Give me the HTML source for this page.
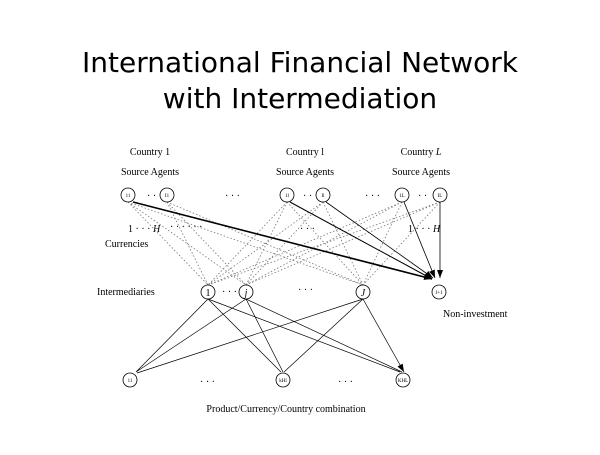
<!DOCTYPE html>
<html><head><style>
body{margin:0;background:#fff;width:600px;height:450px;overflow:hidden}
svg text{font-family:"Liberation Serif",serif;fill:#000}
</style></head><body>
<svg width="600" height="450" viewBox="0 0 600 450">
<defs><marker id="a" markerWidth="8" markerHeight="6" refX="8" refY="3" orient="auto" markerUnits="userSpaceOnUse"><path d="M0,0L8,3L0,6z" fill="#000"/></marker></defs>
<text x="300" y="72" text-anchor="middle" style="font-family:'DejaVu Sans',sans-serif;font-size:28px">International Financial Network</text>
<text x="300" y="108" text-anchor="middle" style="font-family:'DejaVu Sans',sans-serif;font-size:28px">with Intermediation</text>
<g font-size="10">
<text x="150" y="155" text-anchor="middle">Country 1</text>
<text x="305" y="155" text-anchor="middle">Country l</text>
<text x="421" y="155" text-anchor="middle">Country <tspan font-style="italic">L</tspan></text>
<text x="150" y="175" text-anchor="middle">Source Agents</text>
<text x="305" y="175" text-anchor="middle">Source Agents</text>
<text x="421" y="175" text-anchor="middle">Source Agents</text>
<text x="147" y="199">· · ·</text><text x="225" y="199">· · ·</text><text x="303" y="199">· · ·</text><text x="365" y="199">· · ·</text><text x="418" y="199">· ·</text>
<text x="128" y="232">1 · · · <tspan font-style="italic">H</tspan></text>
<text x="170" y="230">· · · · · ·</text>
<text x="300" y="232">· · ·</text>
<text x="408" y="232">1 · · · <tspan font-style="italic">H</tspan></text>
<text x="105" y="247">Currencies</text>
<text x="97" y="295">Intermediaries</text>
<text x="222" y="295">· · ·</text><text x="298" y="293">· · ·</text>
<text x="443" y="317">Non-investment</text>
<text x="200" y="385">· · ·</text><text x="338" y="385">· · ·</text>
<text x="286" y="412" text-anchor="middle">Product/Currency/Country combination</text>
</g>
<g stroke="#777" stroke-width="0.8" stroke-dasharray="1.5,2" fill="none">
<path d="M128,202L208,285M128,202L246,285M128,202L363,285M167,202L208,285M167,202L246,285M167,202L363,285M287,202L208,285M287,202L246,285M287,202L363,285M323,202L208,285M323,202L246,285M323,202L363,285M402,202L208,285M402,202L246,285M402,202L363,285M440,202L208,285M440,202L246,285M440,202L363,285"/>
</g>
<g stroke="#000" fill="none" marker-end="url(#a)">
<path d="M133,202L432,279" stroke-width="1.6"/>
<path d="M290,202L432,279" stroke-width="1"/>
<path d="M326,202L433,278" stroke-width="0.8"/>
<path d="M404,202L435,278" stroke-width="0.8"/>
<path d="M440,202L440,278" stroke-width="0.8"/>
<g stroke-width="0.7">
<path d="M208,299L136,372M208,299L281,372M208,299L400,372M246,299L136,372M246,299L283,372M246,299L402,372M363,299L137,373M363,299L284,372M363,299L404,372"/>
</g></g>
<g fill="#fff" stroke="#000" stroke-width="0.8">
<circle cx="128" cy="195" r="7"/><circle cx="167" cy="195" r="7"/><circle cx="287" cy="195" r="7"/><circle cx="323" cy="195" r="7"/><circle cx="402" cy="195" r="7"/><circle cx="440" cy="195" r="7"/>
<circle cx="208" cy="292" r="7"/><circle cx="246" cy="292" r="7"/><circle cx="363" cy="292" r="7"/><circle cx="439" cy="292" r="7"/>
<circle cx="130" cy="380" r="7"/><circle cx="283" cy="380" r="7"/><circle cx="403" cy="380" r="7"/>
</g>
<g font-size="5" text-anchor="middle">
<text x="128" y="197">11</text><text x="167" y="197">I1</text><text x="287" y="197">1l</text><text x="323" y="197">Il</text><text x="402" y="197">1L</text><text x="440" y="197">IL</text>
<text x="439" y="294">J+1</text><text x="130" y="382">11</text><text x="283" y="382">kHl</text><text x="403" y="382">KHL</text>
</g>
<g font-size="10" text-anchor="middle">
<text x="208" y="296">1</text><text x="246" y="296" font-style="italic">j</text><text x="363" y="296" font-style="italic">J</text>
</g>
</svg>
</body></html>
